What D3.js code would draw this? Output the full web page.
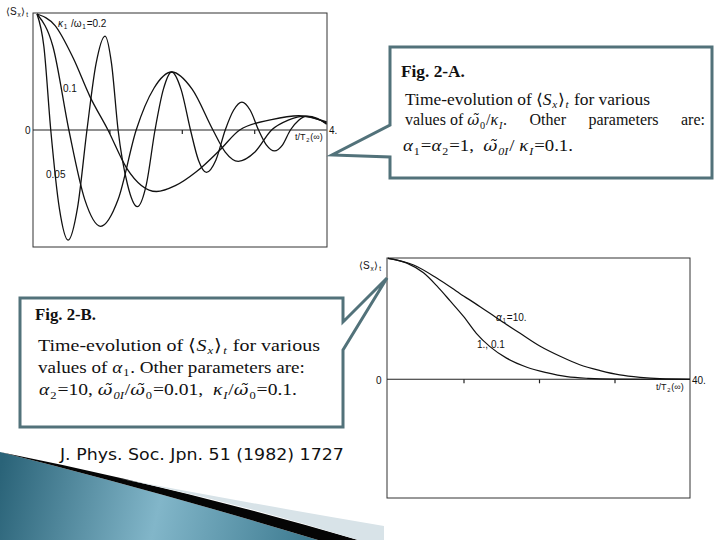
<!DOCTYPE html>
<html>
<head>
<meta charset="utf-8">
<script src="https://cdn.jsdelivr.net/npm/d3@7"></script>
<style>
  html, body { margin: 0; padding: 0; background: #fff; }
  svg { display: block; }
  text { white-space: pre; }
</style>
</head>
<body>
<script>
// ---------- DATA ----------
// Fig. 2-A : <Sx>t vs t/T2(inf) for kappa1/omega1 = 0.05, 0.1, 0.2
const tA005 = [0, 0.095, 0.19, 0.31, 0.43, 0.56, 0.69, 0.815, 0.94, 1.03, 1.12, 1.25, 1.385, 1.51, 1.63, 1.745, 1.86, 1.99, 2.12, 2.23, 2.34, 2.47, 2.6, 2.715, 2.83, 2.945, 3.06, 3.17, 3.28, 3.39, 3.5, 3.615, 3.73, 3.87, 4.0];
const vA005 = [1, 0.72, 0, -0.68, -0.95, -0.67, 0, 0.57, 0.81, 0.57, 0, -0.47, -0.66, -0.47, 0, 0.35, 0.50, 0.35, 0, -0.26, -0.365, -0.26, 0, 0.17, 0.24, 0.17, 0, -0.13, -0.18, -0.13, 0, 0.085, 0.12, 0.10, 0.05];

const tA01 = [0, 0.22, 0.44, 0.66, 0.88, 1.12, 1.37, 1.615, 1.86, 2.145, 2.43, 2.6, 2.78, 3.01, 3.24, 3.47, 3.7, 4.0];
const vA01 = [1, 0.72, 0, -0.6, -0.83, -0.6, 0, 0.36, 0.50, 0.35, 0, -0.19, -0.27, -0.19, 0, 0.085, 0.12, 0.06];

const tA02 = [0, 0.25, 0.5, 0.73, 0.98, 1.24, 1.65, 1.91, 2.2, 2.53, 2.8, 3.24, 3.62, 4.0];
const vA02 = [1, 0.9, 0.62, 0.29, 0, -0.33, -0.53, -0.48, -0.36, -0.17, 0, 0.09, 0.123, 0.07];

const xTicksA = [1, 2, 3];

// Fig. 2-B : <Sx>t vs t/T2(inf) for alpha1 = 10 and alpha1 = 1., 0.1
const tB10 = [0, 3.4, 6.5, 9.5, 12.2, 14.8, 17.5, 20.1, 22.8, 25.4, 28.1, 30.7, 33.4, 36, 40];
const vB10 = [1, 0.945, 0.835, 0.71, 0.60, 0.49, 0.38, 0.275, 0.19, 0.12, 0.072, 0.036, 0.016, 0.005, 0];

const tB1 = [0, 2.5, 4.7, 6.5, 8.2, 10, 11.7, 13.5, 15.7, 18.4, 21, 23.7, 26.5, 30, 40];
const vB1 = [1, 0.96, 0.88, 0.77, 0.65, 0.52, 0.38, 0.27, 0.175, 0.10, 0.055, 0.022, 0.008, 0.002, 0];

const xTicksB = [10, 20, 30];

// ---------- DRAWING ----------
const W = 720, H = 540;
const svg = d3.select("body").append("svg").attr("width", W).attr("height", H);
svg.append("rect").attr("width", W).attr("height", H).attr("fill", "#fff");

const SERIF = "'Liberation Serif', 'Times New Roman', serif";
const SANS = "'Liberation Sans', Arial, sans-serif";
const DJS = "'DejaVu Serif', serif";

// Rich text laid out as separate <text> pieces, side by side.
// style letters: i = italic, s = subscript, w = DejaVu Serif (combining tilde), j = justify gap
function rich(g, x, y, segs, o) {
  const grp = g.append("g");
  const pieces = [];
  const subShift = o.subShift !== undefined ? o.subShift : 0.22;
  let cx = x, prevSub = false;
  segs.forEach(([s, st]) => {
    const sub = st.includes("s");
    if (sub !== prevSub) cx += 0.8;
    const fs = sub ? o.size * 0.64 : (st.includes("w") ? o.size * 0.92 : o.size);
    const t = grp.append("text").attr("x", cx).attr("y", y + (sub ? o.size * subShift : 0))
      .attr("font-family", st.includes("w") ? DJS : o.family)
      .attr("font-size", fs).attr("font-weight", o.weight || "normal")
      .attr("font-style", st.includes("i") ? "italic" : "normal")
      .attr("fill", o.fill || "#111").text(s);
    const w = t.node().getComputedTextLength();
    pieces.push({t, w, st, x: cx});
    cx += w;
    prevSub = sub;
  });
  const natural = cx - x;
  if (o.len) {
    const gaps = pieces.filter(p => p.st.includes("j")).length;
    if (o.justify && gaps > 0) {
      const extra = (o.len - natural) / gaps;
      let shift = 0;
      pieces.forEach(p => {
        p.t.attr("x", p.x + shift);
        if (p.st.includes("j")) shift += extra;
      });
    } else {
      const sx = o.len / natural;
      grp.attr("transform", `translate(${x},0) scale(${sx},1) translate(${-x},0)`);
    }
  }
  return grp;
}

// ---- decorative swoosh (bottom-left) ----
const defs = svg.append("defs");
const grad = defs.append("linearGradient").attr("id", "teal")
  .attr("gradientUnits", "userSpaceOnUse")
  .attr("x1", 0).attr("y1", 470).attr("x2", 318).attr("y2", 540);
grad.append("stop").attr("offset", 0).attr("stop-color", "#2a6378");
grad.append("stop").attr("offset", 0.5).attr("stop-color", "#82b6c9");
grad.append("stop").attr("offset", 1).attr("stop-color", "#3a788e");
svg.append("path").attr("d", "M0,452 Q160,492 318,540 L0,540 Z").attr("fill", "url(#teal)");
svg.append("path").attr("d", "M0,452 Q160,492 318,540 L358,540 Q180,488 0,452 Z").attr("fill", "#050505");
svg.append("path").attr("d", "M70,469 Q230,500 384,526 L384,540 L358,540 Q210,494 70,469 Z").attr("fill", "#d8e3e8");

// ---- Chart A ----
const gA = svg.append("g");
const xA = d3.scaleLinear().domain([0, 4]).range([37, 326.6]);
const yA = d3.scaleLinear().domain([-1, 1]).range([246, 14]);
gA.append("rect").attr("x", 33).attr("y", 13).attr("width", 294).attr("height", 234)
  .attr("fill", "none").attr("stroke", "#333").attr("stroke-width", 1);
gA.append("line").attr("x1", 33).attr("x2", xA(4)).attr("y1", yA(0)).attr("y2", yA(0))
  .attr("stroke", "#222").attr("stroke-width", 1.1);
gA.append("g").attr("transform", `translate(0,${yA(0)})`)
  .call(d3.axisBottom(xA).tickValues(xTicksA).tickFormat("").tickSize(4).tickSizeOuter(0))
  .call(g => g.select(".domain").remove())
  .call(g => g.selectAll("line").attr("stroke", "#222").attr("stroke-width", 1.2));

const lineA = d3.line().x(d => xA(d[0])).y(d => yA(d[1])).curve(d3.curveMonotoneX);
[[tA005, vA005], [tA01, vA01], [tA02, vA02]].forEach(([t, v]) => {
  gA.append("path").attr("d", lineA(d3.zip(t, v))).attr("fill", "none")
    .attr("stroke", "#111").attr("stroke-width", 1.3);
});
rich(gA, 6, 15, [["\u27E8S", ""], ["x", "s"], ["\u27E9", ""], ["t", "s"]], {family: SANS, size: 10});
rich(gA, 58, 27, [["\u03BA", "i"], ["1", "s"], [" /\u03C9", ""], ["1", "s"], ["=0.2", ""]], {family: SANS, size: 10});
rich(gA, 63, 92, [["0.1", ""]], {family: SANS, size: 10});
rich(gA, 46, 178, [["0.05", ""]], {family: SANS, size: 10});
rich(gA, 25, 134, [["0", ""]], {family: SANS, size: 10});
rich(gA, 329, 134, [["4.", ""]], {family: SANS, size: 10});
rich(gA, 295, 140, [["t/T", ""], ["2", "s"], ["(\u221E)", ""]], {family: SANS, size: 9});

// ---- Chart B ----
const gB = svg.append("g");
const xB = d3.scaleLinear().domain([0, 40]).range([388, 690]);
const yB = d3.scaleLinear().domain([-1, 1]).range([500.3, 258.3]);
gB.append("rect").attr("x", 387).attr("y", 258).attr("width", 303).attr("height", 240)
  .attr("fill", "none").attr("stroke", "#333").attr("stroke-width", 1);
gB.append("line").attr("x1", 387).attr("x2", xB(40)).attr("y1", yB(0)).attr("y2", yB(0))
  .attr("stroke", "#222").attr("stroke-width", 1.1);
gB.append("g").attr("transform", `translate(0,${yB(0)})`)
  .call(d3.axisBottom(xB).tickValues(xTicksB).tickFormat("").tickSize(4).tickSizeOuter(0))
  .call(g => g.select(".domain").remove())
  .call(g => g.selectAll("line").attr("stroke", "#222").attr("stroke-width", 1.2));
const lineB = d3.line().x(d => xB(d[0])).y(d => yB(d[1])).curve(d3.curveMonotoneX);
[[tB10, vB10], [tB1, vB1]].forEach(([t, v]) => {
  gB.append("path").attr("d", lineB(d3.zip(t, v))).attr("fill", "none")
    .attr("stroke", "#111").attr("stroke-width", 1.2);
});
rich(gB, 359, 269, [["\u27E8S", ""], ["x", "s"], ["\u27E9", ""], ["t", "s"]], {family: SANS, size: 10});
rich(gB, 376, 384, [["0", ""]], {family: SANS, size: 10});
rich(gB, 692, 384, [["40.", ""]], {family: SANS, size: 10});
rich(gB, 656, 390, [["t/T", ""], ["2", "s"], ["(\u221E)", ""]], {family: SANS, size: 9});
rich(gB, 496, 321, [["\u03B1", "i"], ["1", "s"], ["=10.", ""]], {family: SANS, size: 10});
rich(gB, 477, 348, [["1., 0.1", ""]], {family: SANS, size: 10});

// ---- Callout boxes ----
const BOX = "#52727a";
svg.append("path")
  .attr("d", "M390,125 L390,47 L712,47 L712,178 L390,178 L390,157 L332,155 Z")
  .attr("fill", "#fff").attr("stroke", BOX).attr("stroke-width", 3).attr("stroke-linejoin", "miter");
svg.append("path")
  .attr("d", "M20,298 L343,298 L343,322 L387,278 L343,350 L343,427 L20,427 Z")
  .attr("fill", "#fff").attr("stroke", BOX).attr("stroke-width", 3).attr("stroke-linejoin", "miter");

// Box A text
rich(svg, 401, 77, [["Fig. 2-A.", ""]], {family: SERIF, size: 16, weight: "bold", len: 64});
rich(svg, 405, 105, [["Time-evolution of \u27E8", ""], ["S", "i"], ["x", "si"], ["\u27E9", ""], ["t", "si"], [" for various", ""]],
  {family: SERIF, size: 16, len: 245, subShift: 0.18});
rich(svg, 405, 125, [["values of ", ""], ["\u03C9\u0303", "iw"], ["0", "s"], ["/", ""], ["\u03BA", "i"], ["I", "si"], [". ", "j"], ["Other ", "j"], ["parameters ", "j"], ["are:", ""]],
  {family: SERIF, size: 16, len: 300, justify: true});
rich(svg, 403, 151, [["\u03B1", "i"], ["1", "s"], ["=", ""], ["\u03B1", "i"], ["2", "s"], ["=1,  ", ""], ["\u03C9\u0303", "iw"], ["0I", "si"], ["/ ", ""], ["\u03BA", "i"], ["I", "si"], ["=0.1.", ""]],
  {family: SERIF, size: 16, len: 170});

// Box B text
rich(svg, 35, 320, [["Fig. 2-B.", ""]], {family: SERIF, size: 16, weight: "bold", len: 61});
rich(svg, 38, 351, [["Time-evolution of \u27E8", ""], ["S", "i"], ["x", "si"], ["\u27E9", ""], ["t", "si"], [" for various", ""]],
  {family: SERIF, size: 17, len: 282, subShift: 0.2});
rich(svg, 38, 373, [["values of ", ""], ["\u03B1", "i"], ["1", "s"], [". Other parameters are:", ""]],
  {family: SERIF, size: 17, len: 267, subShift: 0.2});
rich(svg, 39, 395, [["\u03B1", "i"], ["2", "s"], ["=10, ", ""], ["\u03C9\u0303", "iw"], ["0I", "si"], ["/", ""], ["\u03C9\u0303", "iw"], ["0", "s"], ["=0.01,  ", ""], ["\u03BA", "i"], ["I", "si"], ["/", ""], ["\u03C9\u0303", "iw"], ["0", "s"], ["=0.1.", ""]],
  {family: SERIF, size: 17, len: 258});

// Citation
rich(svg, 60, 460, [["J. Phys. Soc. Jpn. 51 (1982) 1727", ""]], {family: "'DejaVu Sans', Verdana, sans-serif", size: 16, len: 284, fill: "#111"});
</script>
</body>
</html>
